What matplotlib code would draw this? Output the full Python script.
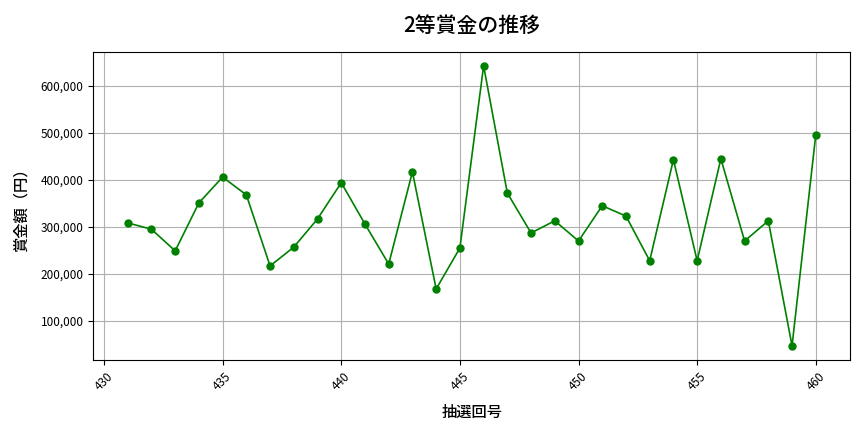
import numpy as np
import matplotlib
matplotlib.use("Agg")
import matplotlib.pyplot as plt
from matplotlib.ticker import FuncFormatter

plt.rcParams['font.family'] = ['Noto Sans CJK JP', 'DejaVu Sans']

# 抽選回と2等賞金
draws = list(range(431, 461))
prize = [308500, 295000, 249000, 351000, 406000, 368000, 217000, 257000, 317000, 394000,
         306000, 221000, 417000, 168000, 255000, 642500, 372000, 287000, 313000, 270000,
         345000, 323000, 228000, 443000, 228000, 445000, 270000, 313000, 47000, 496000]

fig, ax = plt.subplots(figsize=(8.64, 4.32), dpi=100)
ax.plot(draws, prize, marker='o', color='green', linewidth=1.2, markersize=5)

ax.set_title('2等賞金の推移', fontsize=15, fontweight='medium', pad=14)
ax.set_xlabel('抽選回号', fontsize=11, fontweight='medium', labelpad=8)
ax.set_ylabel('賞金額（円）', fontsize=11, fontweight='medium', labelpad=8)
ax.yaxis.set_major_formatter(FuncFormatter(lambda v, p: f'{int(v):,}'))
ax.tick_params(axis='both', labelsize=8.5)
plt.setp(ax.get_xticklabels(), rotation=45)
ax.grid(True, color='#b0b0b0', linewidth=0.8)

fig.subplots_adjust(left=0.108, right=0.984, top=0.88, bottom=0.167)
fig.savefig('out.png')
